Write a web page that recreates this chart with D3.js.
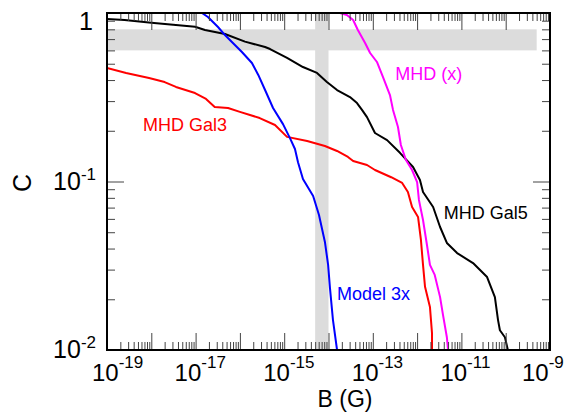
<!DOCTYPE html>
<html>
<head>
<meta charset="utf-8">
<script src="https://cdn.jsdelivr.net/npm/d3@7"></script>
<style>
  html, body { margin: 0; padding: 0; background: #fff; }
  svg { display: block; font-family: "Liberation Sans", Arial, Helvetica, sans-serif; }
</style>
</head>
<body>
<svg id="chart" width="571" height="412"></svg>
<script>

// ---------------------------------------------------------------
// data read off the figure : [B (G), C]
// ---------------------------------------------------------------

const gal5 = [
  [1e-19, 0.921], [2.5e-19, 0.909], [1e-18, 0.876], [9.7e-18, 0.829], [1.63e-17, 0.793],
  [4.6e-17, 0.751], [1.3e-16, 0.676], [3.7e-16, 0.628], [4.8e-16, 0.611], [1.16e-15, 0.541],
  [2.65e-15, 0.478], [5.5e-15, 0.441], [9.2e-15, 0.390], [1.56e-14, 0.349], [3.05e-14, 0.317],
  [4.4e-14, 0.292], [5.7e-14, 0.266], [7.4e-14, 0.241], [1.12e-13, 0.194], [2.1e-13, 0.176],
  [4.1e-13, 0.148], [8.1e-13, 0.122], [1.16e-12, 0.102], [1.36e-12, 0.0866], [2.3e-12, 0.0706],
  [3.3e-12, 0.0537], [4.7e-12, 0.0432], [8.0e-12, 0.0376], [1.83e-11, 0.0328], [3.8e-11, 0.0271],
  [5.7e-11, 0.0206], [6.7e-11, 0.0151], [7.4e-11, 0.0131], [9.6e-11, 0.0119], [1.12e-10, 0.01]
];

const model3x = [
  [1.39e-17, 1.0], [1.9e-17, 0.947], [3.2e-17, 0.826], [4.6e-17, 0.740], [6.6e-17, 0.673],
  [1.11e-16, 0.587], [1.87e-16, 0.505], [2.6e-16, 0.429], [3.7e-16, 0.349], [5.6e-16, 0.273],
  [9.4e-16, 0.219], [1.35e-15, 0.181], [1.75e-15, 0.156], [2.05e-15, 0.130], [2.65e-15, 0.1035],
  [4.5e-15, 0.082], [6.1e-15, 0.0633], [8.3e-15, 0.0438], [9.8e-15, 0.032], [1.08e-14, 0.0233],
  [1.26e-14, 0.0151], [1.56e-14, 0.01]
];

const gal3 = [
  [1e-19, 0.472], [2.7e-19, 0.441], [8.9e-19, 0.411], [2.0e-18, 0.389], [3.6e-18, 0.364],
  [9.7e-18, 0.335], [1.72e-17, 0.309], [2.7e-17, 0.277], [5.4e-17, 0.273], [1.0e-16, 0.259],
  [1.69e-16, 0.248], [2.8e-16, 0.238], [6.2e-16, 0.2165], [1.16e-15, 0.184], [3.3e-15, 0.174],
  [8.3e-15, 0.1624], [1.56e-14, 0.1518], [2.75e-14, 0.1398], [3.6e-14, 0.1324], [7.4e-14, 0.1253],
  [1.12e-13, 0.117], [2.6e-13, 0.106], [4.6e-13, 0.098], [6.2e-13, 0.0866], [7.7e-13, 0.0706],
  [1.05e-12, 0.0616], [1.22e-12, 0.045], [1.36e-12, 0.032], [1.51e-12, 0.0237], [1.95e-12, 0.018],
  [2.17e-12, 0.0126], [2.17e-12, 0.01]
];

const mhdX = [
  [1.82e-14, 1.0], [2.6e-14, 0.973], [3.6e-14, 0.909], [4.6e-14, 0.793], [6.7e-14, 0.664],
  [8.7e-14, 0.579], [1.24e-13, 0.512], [1.7e-13, 0.417], [2.44e-13, 0.326], [2.86e-13, 0.266],
  [3.7e-13, 0.2106], [4.3e-13, 0.1647], [5.6e-13, 0.134], [7.7e-13, 0.117], [1.0e-12, 0.0993],
  [1.1e-12, 0.0777], [1.36e-12, 0.0591], [1.67e-12, 0.042], [1.95e-12, 0.032], [2.5e-12, 0.0279],
  [3.3e-12, 0.0206], [3.85e-12, 0.0161], [4.7e-12, 0.0119], [5.0e-12, 0.01]
];

// grey bands: C range (horizontal) and B range (vertical)
const cBand = [0.6, 0.8];
const cBandB = [1e-19, 5e-10];
const bBand = [5e-15, 1e-14];

// axis ticks
const xExps = d3.range(-19, -8);          // 10^-19 .. 10^-9
const xLabelExps = [-19, -17, -15, -13, -11, -9];
const yExps = [-2, -1, 0];
const yLabelExps = [-2, -1, 0];

const series = [
  { name: 'Gal5', data: gal5, color: '#000000' },
  { name: 'Gal3', data: gal3, color: '#ff0000' },
  { name: 'x', data: mhdX, color: '#ff00ff' },
  { name: 'Model3x', data: model3x, color: '#0000ff' }
];

// annotation text, anchored at (B, C) of the text start
const labels = [
  { text: 'MHD Gal3', b: 6.5e-19, c: 0.2, color: '#ff0000' },
  { text: 'MHD (x)', b: 3.2e-13, c: 0.40, color: '#ff00ff' },
  { text: 'MHD Gal5', b: 4.0e-12, c: 0.060, color: '#000000' },
  { text: 'Model 3x', b: 1.56e-14, c: 0.0198, color: '#0000ff' }
];

// ---------------------------------------------------------------
// scales
// ---------------------------------------------------------------

const pLeft = 107, pRight = 550, pTop = 13, pBottom = 350;

const x = d3.scaleLog().domain([1e-19, 1e-9]).range([pLeft, pRight]);
const y = d3.scaleLog().domain([1e-2, 1]).range([pBottom, pTop]);

const xMajor = xExps.map(e => Math.pow(10, e));
const xMinor = [];
xExps.slice(0, -1).forEach(e => { for (let m = 2; m <= 9; m++) xMinor.push(m * Math.pow(10, e)); });
const yMajor = yExps.map(e => Math.pow(10, e));
const yMinor = [];
yExps.slice(0, -1).forEach(e => { for (let m = 2; m <= 9; m++) yMinor.push(m * Math.pow(10, e)); });

const svg = d3.select('#chart');

svg.append('defs').append('clipPath').attr('id', 'plot-clip')
  .append('rect')
  .attr('x', pLeft).attr('y', pTop)
  .attr('width', pRight - pLeft).attr('height', pBottom - pTop);

// ---------------------------------------------------------------
// grey bands
// ---------------------------------------------------------------

svg.append('rect')
  .attr('x', x(cBandB[0])).attr('width', x(cBandB[1]) - x(cBandB[0]))
  .attr('y', y(cBand[1])).attr('height', y(cBand[0]) - y(cBand[1]))
  .attr('fill', '#dcdcdc');

svg.append('rect')
  .attr('x', x(bBand[0])).attr('width', x(bBand[1]) - x(bBand[0]))
  .attr('y', pTop).attr('height', pBottom - pTop)
  .attr('fill', '#dcdcdc');

// ---------------------------------------------------------------
// curves
// ---------------------------------------------------------------

const line = d3.line().x(d => x(d[0])).y(d => y(d[1]));

svg.append('g').attr('clip-path', 'url(#plot-clip)')
  .selectAll('path')
  .data(series)
  .join('path')
  .attr('d', d => line(d.data))
  .attr('fill', 'none')
  .attr('stroke', d => d.color)
  .attr('stroke-width', 2)
  .attr('stroke-linejoin', 'round');

// ---------------------------------------------------------------
// ticks (inward, all four sides)
// ---------------------------------------------------------------

function tickAxis(axis, values, size, transform) {
  const g = svg.append('g')
    .attr('transform', transform)
    .call(axis.tickValues(values).tickSize(-size).tickSizeOuter(0).tickFormat(''));
  g.select('.domain').remove();
  g.selectAll('line').attr('stroke', '#444').attr('stroke-width', 1);
}

tickAxis(d3.axisBottom(x), xMajor, 17, `translate(0,${pBottom})`);
tickAxis(d3.axisBottom(x), xMinor, 8, `translate(0,${pBottom})`);
tickAxis(d3.axisTop(x), xMajor, 17, `translate(0,${pTop})`);
tickAxis(d3.axisTop(x), xMinor, 8, `translate(0,${pTop})`);
tickAxis(d3.axisLeft(y), yMajor, 17, `translate(${pLeft},0)`);
tickAxis(d3.axisLeft(y), yMinor, 8, `translate(${pLeft},0)`);
tickAxis(d3.axisRight(y), yMajor, 17, `translate(${pRight},0)`);
tickAxis(d3.axisRight(y), yMinor, 8, `translate(${pRight},0)`);

svg.append('rect')
  .attr('x', pLeft).attr('y', pTop)
  .attr('width', pRight - pLeft).attr('height', pBottom - pTop)
  .attr('fill', 'none')
  .attr('stroke', '#000')
  .attr('stroke-width', 2);

// ---------------------------------------------------------------
// tick labels
// ---------------------------------------------------------------

xLabelExps.forEach((e, i) => {
  let px = x(Math.pow(10, e)) - 21;
  if (i === 0) px = x(Math.pow(10, e)) - 15;
  if (i === xLabelExps.length - 1) px = x(Math.pow(10, e)) - 28;
  const t = svg.append('text')
    .attr('x', px).attr('y', 381)
    .attr('font-size', 24).attr('fill', '#000');
  t.append('tspan').text('10');
  t.append('tspan').attr('dy', -13).attr('font-size', 17).text(String(e));
});

yLabelExps.forEach(e => {
  const py = y(Math.pow(10, e));
  if (e === 0) {
    svg.append('text')
      .attr('x', 93).attr('y', 30)
      .attr('text-anchor', 'end')
      .attr('font-size', 25)
      .text('1');
    return;
  }
  const t = svg.append('text')
    .attr('x', 96).attr('y', py + 8)
    .attr('text-anchor', 'end')
    .attr('font-size', 25);
  t.append('tspan').text('10');
  t.append('tspan').attr('dy', -10).attr('font-size', 17).text(String(e));
});

// axis titles
svg.append('text')
  .attr('x', 345).attr('y', 407)
  .attr('text-anchor', 'middle')
  .attr('font-size', 23)
  .text('B (G)');

svg.append('text')
  .attr('transform', 'translate(31,183) rotate(-90)')
  .attr('text-anchor', 'middle')
  .attr('font-size', 25)
  .text('C');

// ---------------------------------------------------------------
// curve labels
// ---------------------------------------------------------------

svg.selectAll('.curve-label')
  .data(labels)
  .join('text')
  .attr('class', 'curve-label')
  .attr('x', d => x(d.b))
  .attr('y', d => y(d.c))
  .attr('font-size', 18)
  .attr('fill', d => d.color)
  .text(d => d.text);

</script>
</body>
</html>
